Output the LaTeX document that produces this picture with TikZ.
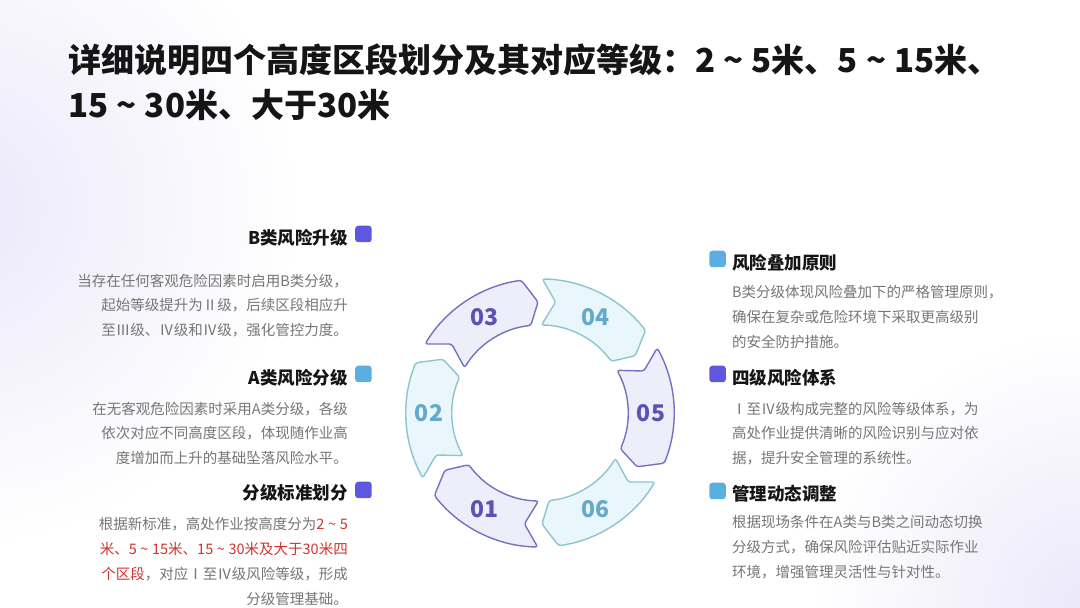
\documentclass[tikz,border=0pt]{standalone}
\usepackage{fontspec}
\setmainfont{Noto Sans CJK SC}
\usetikzlibrary{positioning}
\definecolor{ink}{HTML}{151515}
\definecolor{txt}{HTML}{767676}
\definecolor{hot}{HTML}{D2332E}
\definecolor{pline}{HTML}{7570C2}
\definecolor{pfill}{HTML}{EEEDFA}
\definecolor{ptext}{HTML}{5A52B4}
\definecolor{bline}{HTML}{8CC6CC}
\definecolor{bfill}{HTML}{E9F6FB}
\definecolor{btext}{HTML}{64AACA}
\definecolor{tagpc}{HTML}{5F57E0}
\definecolor{tagbc}{HTML}{5BAEE0}
\definecolor{lav}{HTML}{EAE8FA}
\newcommand\tld{\hspace{0.25em}\textasciitilde\hspace{0.25em}}
\tikzset{
  title/.style={anchor=north west, inner sep=0, align=left, text=ink, font=\fontsize{33}{45}\selectfont\bfseries},
  headl/.style={anchor=east, inner sep=0, text=ink, font=\fontsize{17.5}{20}\selectfont\bfseries},
  headr/.style={anchor=west, inner sep=0, text=ink, font=\fontsize{17.5}{20}\selectfont\bfseries},
  bodyl/.style={anchor=north east, inner sep=0, align=right, text=txt, font=\fontsize{14.5}{24.9}\selectfont},
  bodyr/.style={anchor=north west, inner sep=0, align=left, text=txt, font=\fontsize{14.5}{24.9}\selectfont},
  tagp/.style={fill=tagpc, rounded corners=3pt, minimum size=16.5pt, inner sep=0},
  tagb/.style={fill=tagbc, rounded corners=3pt, minimum size=16.5pt, inner sep=0},
  segp/.style={draw=pline, fill=pfill, line width=1.4pt, rounded corners=2.5pt},
  segb/.style={draw=bline, fill=bfill, line width=1.4pt, rounded corners=2.5pt},
  nump/.style={text=ptext, font=\fontsize{23}{23}\selectfont\bfseries},
  numb/.style={text=btext, font=\fontsize{23}{23}\selectfont\bfseries}
}

\begin{document}
\begin{tikzpicture}[x=1pt, y=1pt]
  \useasboundingbox (0,0) rectangle (1080,608);
  % background glow
  \fill[white] (0,0) rectangle (1080,608);
  \shade[inner color=lav, outer color=white] (-40,400) circle (340pt);
  \shade[inner color=lav, outer color=white] (1090,0) circle (280pt);

  \node[title] (ttl) at (68,564) {详细说明四个高度区段划分及其对应等级：2\tld 5米、5\tld 15米、\\15\tld 30米、大于30米};

  % ring
  \begin{scope}[shift={(540,195)}]
    \foreach \c/\n/\k in {-120/01/p, 180/02/b, 120/03/p, 60/04/b, 0/05/p, -60/06/b} {
      \draw[seg\k] ({\c+29}:134pt) arc[start angle=\c+29, end angle=\c-22, radius=134pt]
        -- ({\c-29}:111pt) -- ({\c-24}:88pt)
        arc[start angle=\c-24, end angle=\c+29, radius=88pt]
        -- ({\c+22}:112pt) -- cycle;
      \node[num\k] (n\n) at (\c:111pt) {\n};
    }
  \end{scope}

  % left column
  \node[headl] (hb) at (348,370) {B类风险升级};
  \node[tagp, right=7pt of hb, yshift=4pt] (tb) {};
  \node[bodyl] (bb) at (348,334.5) {当存在任何客观危险因素时启用B类分级，\\起始等级提升为Ⅱ级，后续区段相应升\\至Ⅲ级、Ⅳ级和Ⅳ级，强化管控力度。};

  \node[headl] (ha) at (348,230) {A类风险分级};
  \node[tagb, right=7pt of ha, yshift=4pt] (ta) {};
  \node[bodyl] (ba) at (348,206.5) {在无客观危险因素时采用A类分级，各级\\依次对应不同高度区段，体现随作业高\\度增加而上升的基础坠落风险水平。};

  \node[headl] (hs) at (348,115) {分级标准划分};
  \node[tagp, right=7pt of hs, yshift=3pt] (ts) {};
  \node[bodyl] (bs) at (348,90.5) {根据新标准，高处作业按高度分为\textcolor{hot}{2\tld 5}\\\textcolor{hot}{米、5\tld 15米、15\tld 30米及大于30米四}\\\textcolor{hot}{个区段}，对应Ⅰ至Ⅳ级风险等级，形成\\分级管理基础。};

  % right column
  \node[headr] (hr) at (732,345) {风险叠加原则};
  \node[tagb, left=6pt of hr, yshift=4pt] (tr) {};
  \node[bodyr] (br) at (732,322.5) {B类分级体现风险叠加下的严格管理原则，\\确保在复杂或危险环境下采取更高级别\\的安全防护措施。};

  \node[headr] (hf) at (732,230) {四级风险体系};
  \node[tagp, left=6pt of hf, yshift=4pt] (tf) {};
  \node[bodyr] (bf) at (732,206.5) {Ⅰ至Ⅳ级构成完整的风险等级体系，为\\高处作业提供清晰的风险识别与应对依\\据，提升安全管理的系统性。};

  \node[headr] (hm) at (732,114) {管理动态调整};
  \node[tagb, left=6pt of hm, yshift=3pt] (tm) {};
  \node[bodyr] (bm) at (732,92.5) {根据现场条件在A类与B类之间动态切换\\分级方式，确保风险评估贴近实际作业\\环境，增强管理灵活性与针对性。};
\end{tikzpicture}
\end{document}
